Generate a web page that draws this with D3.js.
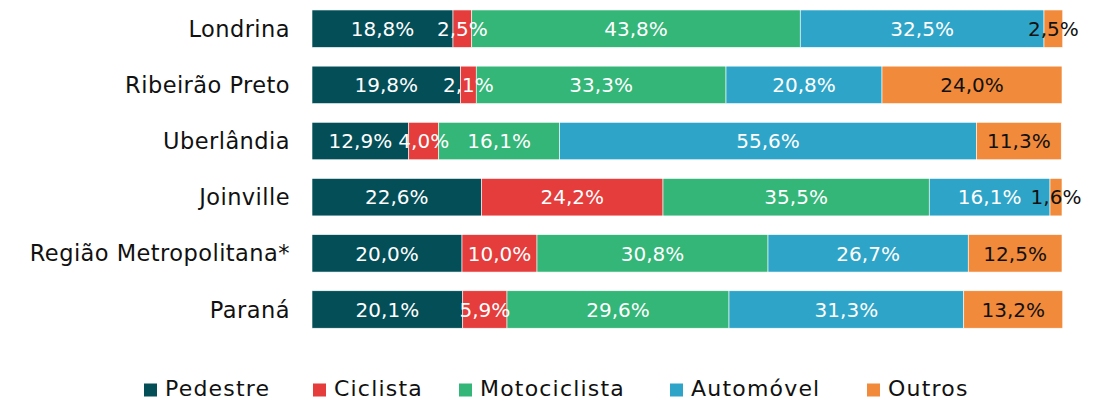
<!DOCTYPE html>
<html><head><meta charset="utf-8">
<script src="https://cdn.jsdelivr.net/npm/d3@7"></script>
<style>body{margin:0;background:#fff;} svg{display:block;}</style>
</head><body>
<div id="chart"></div>
<script>
const categories = ["Londrina","Ribeirão Preto","Uberlândia","Joinville","Região Metropolitana*","Paraná"];
const seriesNames = ["Pedestre","Ciclista","Motociclista","Automóvel","Outros"];
const pedestre     = [18.8, 19.8, 12.9, 22.6, 20.0, 20.1];
const ciclista     = [2.5, 2.1, 4.0, 24.2, 10.0, 5.9];
const motociclista = [43.8, 33.3, 16.1, 35.5, 30.8, 29.6];
const automovel    = [32.5, 20.8, 55.6, 16.1, 26.7, 31.3];
const outros       = [2.5, 24.0, 11.3, 1.6, 12.5, 13.2];
const seriesValues = [pedestre, ciclista, motociclista, automovel, outros];
const colors = ["#044E58","#E53C3C","#33B677","#2EA5C8","#F18A3A"];
const textColors = ["#fff","#fff","#fff","#fff","#111"];

const W = 1107, H = 402;
const svg = d3.select("#chart").append("svg").attr("width", W).attr("height", H);
const font = "'DejaVu Sans', sans-serif";

const x = d3.scaleLinear().domain([0, 100]).range([312, 1062]);
const y = d3.scaleBand().domain(categories).range([0.6, 337.6]).paddingInner(0.333).paddingOuter(0.167);

const rows = categories.map((c, i) => {
  let acc = 0;
  return seriesValues.map((vals, s) => {
    const seg = {cat: c, s, v: vals[i], x0: acc, x1: acc + vals[i]};
    acc += vals[i];
    return seg;
  });
}).flat();

const g = svg.append("g");
g.selectAll("rect").data(rows).join("rect")
  .attr("x", d => x(d.x0))
  .attr("y", d => y(d.cat))
  .attr("width", d => x(d.x1) - x(d.x0))
  .attr("height", y.bandwidth())
  .attr("fill", d => colors[d.s])
  .attr("stroke", "#fff").attr("stroke-width", 0.6);

g.selectAll("text.val").data(rows).join("text")
  .attr("class", "val")
  .attr("x", d => (x(d.x0) + x(d.x1)) / 2)
  .attr("y", d => y(d.cat) + y.bandwidth() / 2)
  .attr("dy", "0.36em")
  .attr("text-anchor", "middle")
  .attr("font-family", font).attr("font-size", 20)
  .attr("fill", d => textColors[d.s])
  .text(d => d.v.toFixed(1).replace(".", ",") + "%");

// category axis
const yAxis = d3.axisLeft(y).tickSize(0).tickPadding(0);
const ax = svg.append("g").attr("transform", "translate(290,0)").call(yAxis);
ax.select(".domain").remove();
ax.selectAll("text").attr("font-family", font).attr("font-size", 22.5)
  .attr("letter-spacing", 0.45).attr("fill", "#111").attr("dy", "0.36em");

// legend
const legendX = [144, 313, 459, 670, 867];
const lg = svg.append("g");
seriesNames.forEach((n, i) => {
  lg.append("rect").attr("x", legendX[i]).attr("y", 383.5).attr("width", 13).attr("height", 13).attr("fill", colors[i]);
  lg.append("text").attr("x", legendX[i] + 21).attr("y", 396)
    .attr("font-family", font).attr("font-size", 22).attr("letter-spacing", 1.2)
    .attr("fill", "#111").text(n);
});
</script>
</body></html>
